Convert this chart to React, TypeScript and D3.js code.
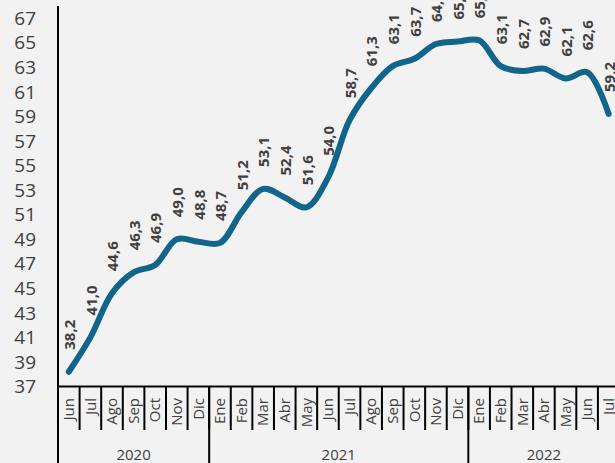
import { useMemo } from 'react';
import * as d3 from 'd3';

const W = 615;
const H = 463;

// months Jun 2020 .. Jul 2022
const months = [
  'Jun', 'Jul', 'Ago', 'Sep', 'Oct', 'Nov', 'Dic',
  'Ene', 'Feb', 'Mar', 'Abr', 'May', 'Jun', 'Jul', 'Ago', 'Sep', 'Oct', 'Nov', 'Dic',
  'Ene', 'Feb', 'Mar', 'Abr', 'May', 'Jun', 'Jul',
];
const values = [
  38.2, 41.0, 44.6, 46.3, 46.9, 49.0, 48.8,
  48.7, 51.2, 53.1, 52.4, 51.6, 54.0, 58.7, 61.3, 63.1, 63.7, 64.9, 65.1,
  65.2, 63.1, 62.7, 62.9, 62.1, 62.6, 59.2,
];
const years = ['2020', '2021', '2022'];
const yearCounts = [7, 12, 7];
const yTicks = [37, 39, 41, 43, 45, 47, 49, 51, 53, 55, 57, 59, 61, 63, 65, 67];

const textColor = '#404040';
const lineColor = '#11658a';
const font = '"Open Sans", sans-serif';

export default function App() {
  const left = 58;
  const right = 619.5;
  const axisY = 386.5;

  const x = useMemo(
    () =>
      d3
        .scaleBand<number>()
        .domain(d3.range(months.length))
        .range([left, right])
        .padding(0),
    [],
  );
  const y = useMemo(() => d3.scaleLinear().domain([37, 68]).range([axisY, 6]), []);

  const line = d3
    .line<number>()
    .x((_, i) => (x(i) as number) + x.bandwidth() / 2)
    .y((d) => y(d))
    .curve(d3.curveCatmullRom.alpha(0.5));

  // year boundaries
  const yearBounds: { label: string; start: number; end: number }[] = [];
  let acc = 0;
  years.forEach((label, i) => {
    const start = x(acc) as number;
    acc += yearCounts[i];
    const end = acc < months.length ? (x(acc) as number) : right;
    yearBounds.push({ label, start, end });
  });

  return (
    <div style={{ position: 'fixed', left: 0, top: 0, width: W, height: H }}>
      <svg width={W} height={H} viewBox={`0 0 ${W} ${H}`} style={{ display: 'block', fontFamily: font }}>
        <rect width={W} height={H} fill="#f2f2f2" />

        {/* y tick labels */}
        {yTicks.map((t) => (
          <text
            key={t}
            x={36}
            y={y(t)}
            dy="0.35em"
            textAnchor="end"
            fontSize={19}
            fill={textColor}
          >
            {t}
          </text>
        ))}

        {/* line */}
        <path d={line(values) || ''} fill="none" stroke={lineColor} strokeWidth={6} strokeLinecap="round" />

        {/* data labels */}
        {values.map((v, i) => {
          const cx = (x(i) as number) + x.bandwidth() / 2 + 1;
          const cy = y(v) - 22;
          return (
            <text
              key={i}
              transform={`translate(${cx},${cy}) rotate(-90)`}
              dy="0.35em"
              fontSize={15}
              fontWeight="bold"
              fill={textColor}
            >
              {v.toFixed(1).replace('.', ',')}
            </text>
          );
        })}

        {/* axes */}
        <line x1={left} x2={left} y1={6} y2={H} stroke="#000" strokeWidth={2} />
        <line x1={left} x2={W} y1={axisY} y2={axisY} stroke="#000" strokeWidth={2} />

        {/* month separators */}
        {months.map((_, i) =>
          i === 0 ? null : (
            <line
              key={i}
              x1={x(i) as number}
              x2={x(i) as number}
              y1={axisY}
              y2={430}
              stroke="#000"
              strokeWidth={2}
            />
          ),
        )}
        {/* year separators */}
        {yearBounds.slice(1).map((b) => (
          <line key={b.label} x1={b.start} x2={b.start} y1={axisY} y2={H} stroke="#000" strokeWidth={2} />
        ))}

        {/* month labels */}
        {months.map((m, i) => {
          const cx = (x(i) as number) + x.bandwidth() / 2;
          return (
            <text
              key={i}
              transform={`translate(${cx},398) rotate(-90)`}
              dy="0.35em"
              textAnchor="end"
              fontSize={15}
              fill={textColor}
            >
              {m}
            </text>
          );
        })}

        {/* year labels */}
        {yearBounds.map((b) => (
          <text
            key={b.label}
            x={(b.start + b.end) / 2}
            y={455}
            dy="0.35em"
            textAnchor="middle"
            fontSize={15}
            fill={textColor}
          >
            {b.label}
          </text>
        ))}
      </svg>
    </div>
  );
}
